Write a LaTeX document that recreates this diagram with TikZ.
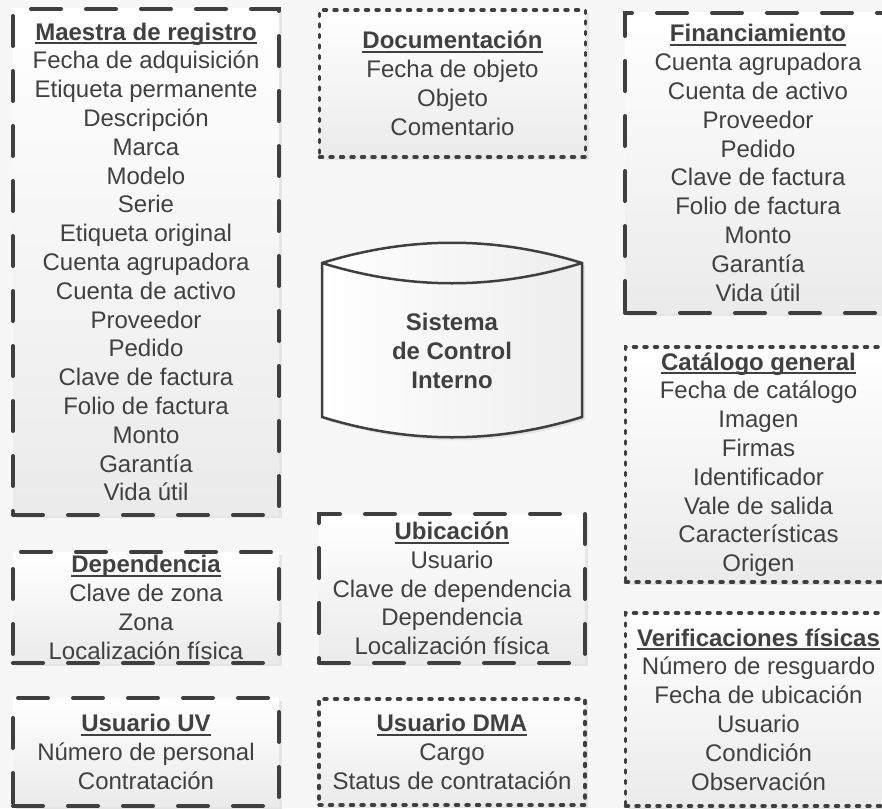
\documentclass[tikz,border=0pt]{standalone}
\usepackage{fontspec}
\setmainfont{Liberation Sans}
\usepackage{xcolor}
\usetikzlibrary{shadows}

\definecolor{tinta}{HTML}{404040}
\definecolor{borde}{HTML}{3F3F3F}
\definecolor{fondo}{HTML}{F7F7F7}

% titulo subrayado de cada tabla
\newcommand{\titulo}[1]{\setbox0=\hbox{\bfseries #1}\rlap{\rule[-4pt]{\wd0}{2pt}}\box0}

\begin{document}
\begin{tikzpicture}[x=1pt, y=-1pt, font=\fontsize{24}{28.8}\selectfont,
    caja/.style={rectangle, minimum width=266pt, inner sep=0pt, align=center, text=tinta,
        top color=white, bottom color=black!8,
        drop shadow={shadow xshift=3pt, shadow yshift=-3pt, fill=black!10, opacity=1}},
    largo/.style={caja, draw=borde, line width=4pt, line cap=round, dash pattern=on 30pt off 25pt},
    corto/.style={caja, draw=borde, line width=3.5pt, line cap=round, dash pattern=on 3pt off 7.5pt}]
    \useasboundingbox (0,0) rectangle (882,808);
    \fill[fondo] (0,0) rectangle (882,808);
    \clip (0,0) rectangle (882,808);

    % columna izquierda
    \node[largo, minimum height=506pt] (maestra) at (146,262) {\titulo{Maestra de registro}\\Fecha de adquisición\\Etiqueta permanente\\Descripción\\Marca\\Modelo\\Serie\\Etiqueta original\\Cuenta agrupadora\\Cuenta de activo\\Proveedor\\Pedido\\Clave de factura\\Folio de factura\\Monto\\Garantía\\Vida útil};
    \node[largo, minimum height=111pt] (dependencia) at (146,607.5) {\titulo{Dependencia}\\Clave de zona\\Zona\\Localización física};
    \node[largo, minimum height=108pt] (usuarioUV) at (146,752) {\titulo{Usuario UV}\\Número de personal\\Contratación};

    % columna central
    \node[corto, minimum height=147pt] (documentacion) at (452.5,83.5) {\titulo{Documentación}\\Fecha de objeto\\Objeto\\Comentario};
    \shadedraw[draw=borde, line width=2.5pt, left color=white, right color=black!7,
        drop shadow={shadow xshift=3pt, shadow yshift=-3pt, fill=black!10, opacity=1}]
        (322,263) .. controls (409,236) and (495,236) .. (582,263) -- (582,417)
        .. controls (495,444) and (409,444) .. (322,417) -- cycle;
    \draw[borde, line width=2.5pt] (322,263) .. controls (409,290) and (495,290) .. (582,263);
    \node[align=center, text=tinta, font=\fontsize{24}{29}\selectfont\bfseries] (sistema) at (452,351) {Sistema\\de Control\\Interno};
    \node[largo, minimum height=149pt] (ubicacion) at (452,588.5) {\titulo{Ubicación}\\Usuario\\Clave de dependencia\\Dependencia\\Localización física};
    \node[corto, minimum height=106pt] (usuarioDMA) at (452,752) {\titulo{Usuario DMA}\\Cargo\\Status de contratación};

    % columna derecha
    \node[largo, minimum height=300pt] (financiamiento) at (758,163) {\titulo{Financiamiento}\\Cuenta agrupadora\\Cuenta de activo\\Proveedor\\Pedido\\Clave de factura\\Folio de factura\\Monto\\Garantía\\Vida útil};
    \node[corto, minimum height=235pt] (catalogo) at (758.5,464.5) {\titulo{Catálogo general}\\Fecha de catálogo\\Imagen\\Firmas\\Identificador\\Vale de salida\\Características\\Origen};
    \node[corto, minimum height=193pt] (verificaciones) at (758.5,709.5) {\titulo{Verificaciones físicas}\\Número de resguardo\\Fecha de ubicación\\Usuario\\Condición\\Observación};
\end{tikzpicture}
\end{document}
